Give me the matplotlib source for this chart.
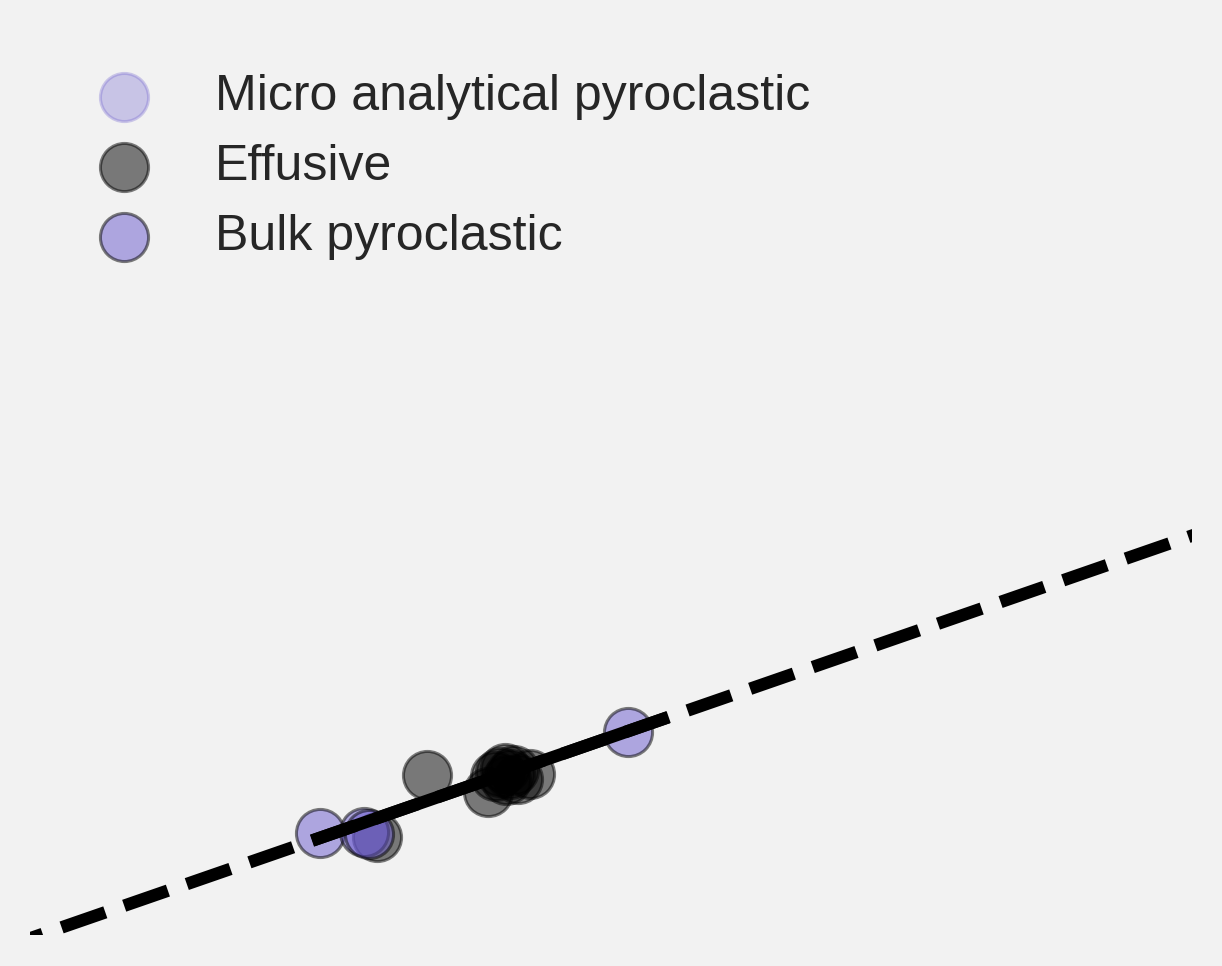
import numpy as np
import matplotlib.pyplot as plt

plt.rcParams['font.family'] = ['Liberation Sans', 'DejaVu Sans']

# data (arbitrary units)
micro_x = []
micro_y = []

effusive_x = [3.417, 2.986, 3.942, 4.002, 4.045, 4.088, 4.131, 4.165, 4.200, 4.303, 4.096]
effusive_y = [1.414, 0.866, 1.264, 1.406, 1.441, 1.476, 1.423, 1.459, 1.379, 1.423, 1.370]

bulk_x = [2.496, 2.874, 2.917, 5.146]
bulk_y = [0.902, 0.910, 0.893, 1.794]

# regression line
fit_a = -0.03
fit_b = 0.356
fit_range = [2.43, 5.49]
full_range = [-1, 11]

fig = plt.figure(figsize=(12.22, 9.66), dpi=100, facecolor='#f2f2f2')
ax = fig.add_axes([30/1222, 31/966, 1162/1222, 905/966])
ax.set_facecolor('#f2f2f2')

purple = '#6a5acd'
ms = 1200
ax.scatter(micro_x, micro_y, s=ms, c=purple, alpha=0.3, edgecolors=purple,
           linewidths=2.2, label='Micro analytical pyroclastic')
ax.scatter(effusive_x, effusive_y, s=ms, c='black', alpha=0.5, edgecolors='black',
           linewidths=2.2, label='Effusive')
ax.scatter(bulk_x, bulk_y, s=ms, c=purple, alpha=0.5, edgecolors='black',
           linewidths=2.2, label='Bulk pyroclastic')

fx = np.array(full_range)
ax.plot(fx, fit_a + fit_b * fx, color='black', ls='--', lw=9, zorder=3)
sx = np.array(fit_range)
ax.plot(sx, fit_a + fit_b * sx, color='black', ls='-', lw=9, solid_capstyle='butt', zorder=4)

ax.set_xlim(0, 10)
ax.set_ylim(0, 8)
ax.axis('off')

leg = fig.legend(loc='upper left', bbox_to_anchor=(0.044, 0.944), frameon=False,
                 fontsize=36, labelspacing=0.48, handletextpad=0.83, borderaxespad=0,
                 markerscale=1.0)
for t in leg.get_texts():
    t.set_color('#262626')

fig.savefig('out.png', dpi=100, facecolor='#f2f2f2')
